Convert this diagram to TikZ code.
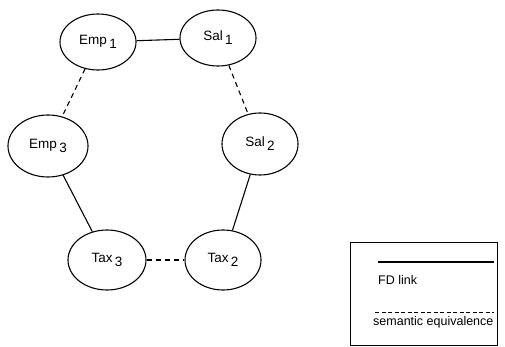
\documentclass[tikz,border=0pt]{standalone}
\usepackage{fontspec}
\setmainfont{Liberation Sans}
\usetikzlibrary{positioning,shapes.geometric}

\newcommand{\idx}[1]{\,\raisebox{-0.55ex}{#1}}

\tikzset{
  attr/.style={draw, ellipse, line width=1.1pt, minimum width=76pt, minimum height=56pt, inner sep=0pt, font=\fontsize{13.5}{15}\selectfont},
  fdlink/.style={line width=1.1pt},
  semeq/.style={line width=1.1pt, dash pattern=on 5pt off 4pt},
  legtext/.style={anchor=west, inner sep=0pt, font=\fontsize{12.5}{14}\selectfont}
}

\begin{document}
\begin{tikzpicture}[x=1pt,y=-1pt]
\useasboundingbox (0,0) rectangle (505,347);

\node[attr] (emp1) at (98,42) {Emp\idx{1}};
\node[attr] (sal1) at (218,38) {Sal\idx{1}};
\node[attr, minimum width=80pt, minimum height=62pt] (emp3) at (48,146) {Emp\idx{3}};
\node[attr, minimum height=62pt] (sal2) at (260,144) {Sal\idx{2}};
\node[attr, minimum width=78pt, minimum height=60pt] (tax3) at (107,260) {Tax\idx{3}};
\node[attr, minimum height=60pt] (tax2) at (223,260) {Tax\idx{2}};

\draw[fdlink] (emp1) -- (sal1);
\draw[semeq] (emp1) -- (emp3);
\draw[semeq] (sal1) -- (sal2);
\draw[fdlink] (emp3) -- (tax3);
\draw[fdlink] (sal2) -- (tax2);
\draw[semeq] (tax3) -- (tax2);

% legend
\draw[line width=0.9pt] (350,242) rectangle (497,345);
\coordinate (fda) at (378,262);
\coordinate (fdb) at (494,262);
\coordinate (sea) at (375,312);
\coordinate (seb) at (494,312);
\draw[fdlink] (fda) -- (fdb);
\draw[line width=0.9pt, dash pattern=on 4pt off 2.5pt] (sea) -- (seb);
\node[legtext] (fdtext) at (378,280) {FD link};
\node[legtext] (setext) at (373,322) {semantic equivalence};

\end{tikzpicture}
\end{document}
